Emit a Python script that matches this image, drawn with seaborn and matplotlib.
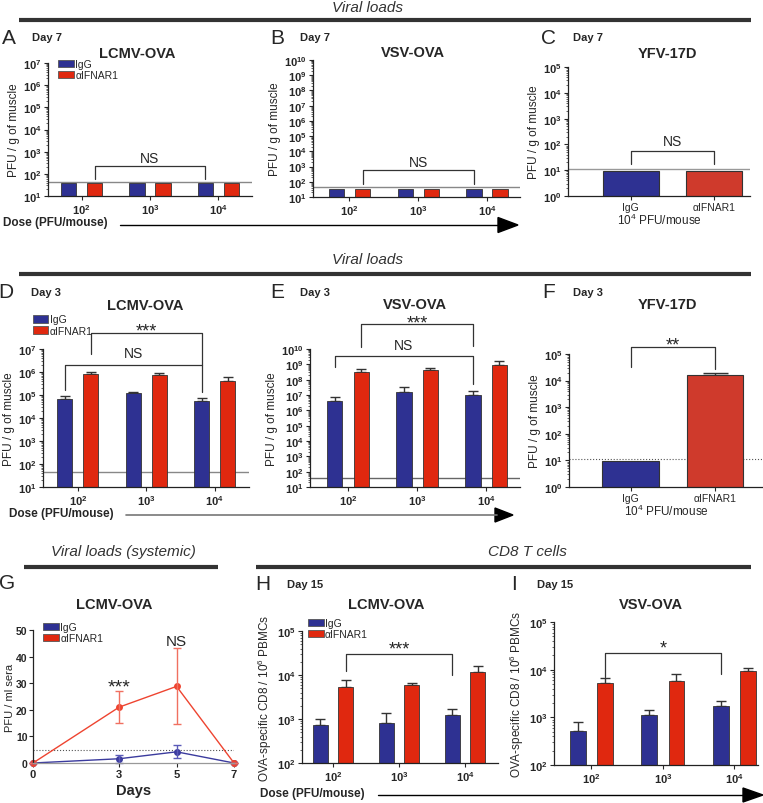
import numpy as np
import pandas as pd
import matplotlib
matplotlib.use("Agg")
import matplotlib.pyplot as plt
import seaborn as sns
from matplotlib.patches import Patch, Polygon
from matplotlib.ticker import FixedLocator, LogLocator, FuncFormatter, NullFormatter

# ---- values ----
groups = ["IgG", "αIFNAR1"]
doses = ["$\\mathbf{10}^{\\mathbf{2}}$", "$\\mathbf{10}^{\\mathbf{3}}$", "$\\mathbf{10}^{\\mathbf{4}}$"]

# A - day 7, LCMV-OVA (at detection limit)
a_igg = [38, 38, 38]
a_ifnar = [38, 38, 38]
a_lod = 42
# B - day 7, VSV-OVA
b_igg = [36, 36, 36]
b_ifnar = [36, 36, 36]
b_lod = 48
# C - day 7, YFV-17D
c_vals = [9.5, 9.5]
c_lod = 11.5
# D - day 3, LCMV-OVA
d_igg = [7.0e4, 1.2e5, 5.5e4]
d_igg_hi = [9.5e4, 1.4e5, 7.5e4]
d_ifnar = [8.0e5, 7.5e5, 4.0e5]
d_ifnar_hi = [1.0e6, 9.0e5, 6.0e5]
d_lod = 45
# E - day 3, VSV-OVA
e_igg = [4.2e6, 1.5e7, 9.4e6]
e_igg_hi = [7.0e6, 3.5e7, 1.7e7]
e_ifnar = [3.3e8, 4.3e8, 9.0e8]
e_ifnar_hi = [4.7e8, 5.4e8, 1.7e9]
e_lod = 40
# F - day 3, YFV-17D
f_vals = [9.5, 1.6e4]
f_hi = [np.nan, 2.0e4]
f_lod = 11
# G - systemic, LCMV-OVA
g_days = [0, 3, 5, 7]
g_igg = [0, 1.6, 4.2, 0]
g_igg_err = [0, 1.5, 2.4, 0]
g_ifnar = [0, 21.0, 28.8, 0]
g_ifnar_err = [0, 6.0, 14.3, 0]
g_lod = 5
# H - day 15, LCMV-OVA CD8
h_igg = [720, 830, 1230]
h_igg_hi = [1000, 1350, 1700]
h_ifnar = [5200, 6000, 11500]
h_ifnar_hi = [7700, 6700, 16000]
# I - day 15, VSV-OVA CD8
i_igg = [525, 1140, 1700]
i_igg_hi = [790, 1450, 2200]
i_ifnar = [5200, 5900, 9600]
i_ifnar_hi = [6600, 8300, 11000]

BLUE = "#2e3192"
RED = "#e0280f"
RED2 = "#cf3a2c"
EDGE = "#333333"

sns.set_style("ticks")
plt.rcParams["font.family"] = ["Liberation Sans", "DejaVu Sans"]
plt.rcParams["mathtext.fontset"] = "custom"
plt.rcParams["mathtext.rm"] = "Liberation Sans"
plt.rcParams["mathtext.bf"] = "Liberation Sans:bold"
plt.rcParams["mathtext.it"] = "Liberation Sans:italic"

W, H = 763, 804
fig = plt.figure(figsize=(W / 100, H / 100), dpi=100)
ov = fig.add_axes([0, 0, 1, 1])
ov.set_xlim(0, W)
ov.set_ylim(H, 0)
ov.axis("off")


def px_axes(l, t, r, b):
    return fig.add_axes([l / W, 1 - b / H, (r - l) / W, (b - t) / H])


def style(ax):
    sns.despine(ax=ax)
    for s in ("left", "bottom"):
        ax.spines[s].set_linewidth(0.9)
        ax.spines[s].set_color("#222222")
    ax.tick_params(axis="both", labelsize=8, length=3, width=0.8, pad=1.5)
    ax.tick_params(which="minor", length=1.5, width=0.5)
    ax.set_xlabel("")


def log_y(ax, lo, hi):
    ax.set_yscale("log")
    ax.set_ylim(10 ** lo, 10 ** hi)
    ax.yaxis.set_major_locator(FixedLocator([10.0 ** k for k in range(lo, hi + 1)]))
    ax.yaxis.set_major_formatter(
        FuncFormatter(lambda v, p: "$\\mathbf{10}^{\\mathbf{%d}}$" % round(np.log10(v))))
    ax.yaxis.set_minor_locator(LogLocator(base=10, subs=np.arange(2, 10), numticks=100))
    ax.yaxis.set_minor_formatter(NullFormatter())


def dose_panel(ax, igg, ifnar, igg_hi, ifnar_hi, lo, hi, xlim):
    df = pd.DataFrame({"dose": doses * 2,
                       "group": [groups[0]] * 3 + [groups[1]] * 3,
                       "value": list(igg) + list(ifnar)})
    sns.barplot(df, x="dose", y="value", hue="group", hue_order=groups,
                palette=[BLUE, RED], saturation=1, width=0.76, gap=0.42,
                errorbar=None, edgecolor=EDGE, linewidth=0.6, legend=False, ax=ax)
    log_y(ax, lo, hi)
    ax.set_xlim(*xlim)
    style(ax)
    centers = [[p.get_x() + p.get_width() / 2 for p in c] for c in ax.containers]
    if igg_hi is not None:
        for xs, vals, his in zip(centers, (igg, ifnar), (igg_hi, ifnar_hi)):
            vals = np.array(vals)
            ax.errorbar(xs, vals, yerr=[np.zeros(len(vals)), np.array(his) - vals],
                        fmt="none", ecolor=EDGE, elinewidth=1, capsize=3.5,
                        capthick=1, zorder=0.9)
    return centers


def single_panel(ax, vals, his, lo, hi, xlim):
    df = pd.DataFrame({"group": groups, "value": vals})
    sns.barplot(df, x="group", y="value", hue="group", hue_order=groups,
                palette=[BLUE, RED2], saturation=1, width=0.67, errorbar=None,
                edgecolor=EDGE, linewidth=0.8, legend=False, ax=ax)
    log_y(ax, lo, hi)
    ax.set_xlim(*xlim)
    style(ax)
    ax.tick_params(axis="x", labelsize=7.5)
    centers = [c[0].get_x() + c[0].get_width() / 2 for c in ax.containers]
    for x, v, h in zip(centers, vals, his):
        if not np.isnan(h):
            ax.errorbar([x], [v], yerr=[[0], [h - v]], fmt="none", ecolor=EDGE,
                        elinewidth=1, capsize=9, capthick=1, zorder=0.9)
    ax.set_xlabel("10$^4$ PFU/mouse", fontsize=8.5, labelpad=0)
    return centers


def bracket(ax, x1, x2, y, y1, y2, label, ty, size=10):
    ax.plot([x1, x1, x2, x2], [y1, y, y, y2], color=EDGE, lw=0.9, clip_on=False)
    ax.text((x1 + x2) / 2, ty, label, ha="center", va="center", fontsize=size,
            clip_on=False)


def legend(ax, x, y):
    handles = [Patch(facecolor=BLUE, edgecolor="#555555", linewidth=0.6, label=groups[0]),
               Patch(facecolor=RED, edgecolor="#555555", linewidth=0.6, label=groups[1])]
    ax.legend(handles=handles, loc="upper left", bbox_to_anchor=(x, y),
              frameon=False, fontsize=7.5, handlelength=1.5, handleheight=0.7,
              handletextpad=0.15, labelspacing=0.1, borderaxespad=0, borderpad=0)


MUSCLE = "PFU / g of muscle"
STAR = 13

# ---- A ----
ax = px_axes(48, 64, 252, 197)
cA = dose_panel(ax, a_igg, a_ifnar, None, None, 1, 7, (-0.49, 2.49))
ax.axhline(a_lod, color="#888888", lw=1, zorder=0.5)
ax.set_ylabel(MUSCLE, fontsize=8.5, labelpad=2)
bracket(ax, cA[1][0], cA[0][2], 10 ** 2.35, 58, 58, "NS", 10 ** 2.72)
legend(ax, 0.05, 1.03)

# ---- B ----
ax = px_axes(313, 61, 520, 198)
cB = dose_panel(ax, b_igg, b_ifnar, None, None, 1, 10, (-0.53, 2.48))
ax.axhline(b_lod, color="#888888", lw=1, zorder=0.5)
ax.set_ylabel(MUSCLE, fontsize=8.5, labelpad=2)
bracket(ax, cB[1][0], cB[0][2], 10 ** 2.75, 67, 67, "NS", 10 ** 3.32)

# ---- C ----
ax = px_axes(568, 68, 750, 197)
cC = single_panel(ax, c_vals, [np.nan, np.nan], 0, 5, (-0.75, 1.43))
ax.axhline(c_lod, color="#999999", lw=1, zorder=0.5)
ax.set_ylabel(MUSCLE, fontsize=8.5, labelpad=2)
bracket(ax, cC[0], cC[1], 57, 17, 17, "NS", 10 ** 2.13)

# ---- D ----
ax = px_axes(43, 350, 249, 488)
cD = dose_panel(ax, d_igg, d_ifnar, d_igg_hi, d_ifnar_hi, 1, 7, (-0.51, 2.5))
ax.axhline(d_lod, color="#888888", lw=1, zorder=0.5)
ax.set_ylabel(MUSCLE, fontsize=8.5, labelpad=2)
bracket(ax, cD[0][0], cD[0][2], 10 ** 6.3, 10 ** 5.2, 10 ** 5.15, "NS", 10 ** 6.84)
bracket(ax, cD[1][0], cD[0][2], 10 ** 7.69, 10 ** 6.8, 10 ** 6.3, "***", 10 ** 7.8,
        size=STAR)
legend(ax, -0.05, 1.25)

# ---- E ----
ax = px_axes(310, 350, 520, 488)
cE = dose_panel(ax, e_igg, e_ifnar, e_igg_hi, e_ifnar_hi, 1, 10, (-0.55, 2.49))
ax.axhline(e_lod, color="#666666", lw=1, zorder=0.5)
ax.set_ylabel(MUSCLE, fontsize=8.5, labelpad=2)
bracket(ax, cE[0][0], cE[0][2], 10 ** 9.56, 10 ** 8.8, 10 ** 7.7, "NS", 10 ** 10.26)
bracket(ax, cE[1][0], cE[0][2], 10 ** 11.6, 10 ** 10.1, 10 ** 10.2, "***", 10 ** 11.7,
        size=STAR)

# ---- F ----
ax = px_axes(569, 355, 763, 488)
cF = single_panel(ax, f_vals, f_hi, 0, 5, (-0.73, 1.57))
ax.axhline(f_lod, color="#555555", lw=0.8, ls=":", zorder=0.5)
ax.set_ylabel(MUSCLE, fontsize=8.5, labelpad=2)
bracket(ax, cF[0], cF[1], 10 ** 5.25, 10 ** 4.5, 10 ** 4.44, "**", 10 ** 5.35, size=STAR)

# ---- G ----
ax = px_axes(33, 631, 234, 764)
gdf = pd.DataFrame({"day": g_days * 2,
                    "group": [groups[0]] * 4 + [groups[1]] * 4,
                    "pfu": g_igg + g_ifnar})
sns.lineplot(gdf, x="day", y="pfu", hue="group", hue_order=groups,
             palette=["#3b3b9e", "#ee4430"], marker="o", markersize=5,
             markeredgewidth=0, lw=1, errorbar=None, legend=False, ax=ax)
for ln in ax.lines:
    ln.set_clip_on(False)
ax.errorbar(g_days, g_igg, yerr=g_igg_err, fmt="none", ecolor="#5a5ab8",
            elinewidth=1, capsize=3, capthick=1, clip_on=False)
ax.errorbar(g_days, g_ifnar, yerr=g_ifnar_err, fmt="none", ecolor="#f07060",
            elinewidth=1, capsize=3, capthick=1, clip_on=False)
ax.axhline(g_lod, color="#555555", lw=0.8, ls=":", zorder=0.5)
ax.set_xlim(0, 7)
ax.set_ylim(0, 50)
ax.set_xticks(g_days)
ax.set_yticks([0, 10, 20, 30, 40, 50])
style(ax)
ax.tick_params(axis="y", labelsize=7.5, pad=1)
ax.spines["bottom"].set_color("#999999")
for t in ax.get_xticklabels() + ax.get_yticklabels():
    t.set_fontweight("bold")
ax.set_xlabel("Days", fontsize=10.5, fontweight="bold", labelpad=3)
ax.set_ylabel("PFU / ml sera", fontsize=8, labelpad=1)
ax.text(3, 28.5, "***", ha="center", va="center", fontsize=14)
ax.text(5, 46, "NS", ha="center", va="center", fontsize=11)
legend(ax, 0.05, 1.06)

# ---- H ----
CD8 = "OVA-specific CD8 / 10$^6$ PBMCs"
ax = px_axes(302, 632, 498, 764)
cH = dose_panel(ax, h_igg, h_ifnar, h_igg_hi, h_ifnar_hi, 2, 5, (-0.47, 2.5))
ax.set_ylabel(CD8, fontsize=8.5, labelpad=2)
bracket(ax, cH[1][0], cH[0][2], 10 ** 4.48, 10 ** 4.08, 10 ** 4.0, "***", 10 ** 4.58,
        size=STAR)
legend(ax, 0.03, 1.1)

# ---- I ----
ax = px_axes(554, 623, 758, 766)
cI = dose_panel(ax, i_igg, i_ifnar, i_igg_hi, i_ifnar_hi, 2, 5, (-0.52, 2.33))
ax.set_ylabel(CD8, fontsize=8.5, labelpad=2)
bracket(ax, cI[1][0], cI[0][2], 10 ** 4.35, 10 ** 3.84, 10 ** 3.91, "*", 10 ** 4.45,
        size=STAR)

# ---- headers, labels, arrows ----
hdr = dict(ha="center", va="center", fontsize=11, style="italic", color="#333333")
ov.text(368, 8, "Viral loads", **hdr)
ov.plot([19, 751], [21, 21], lw=3, color="#333333", solid_capstyle="butt")
ov.text(368, 260, "Viral loads", **hdr)
ov.plot([19, 751], [275, 275], lw=3, color="#333333", solid_capstyle="butt")
ov.text(123, 552, "Viral loads (systemic)", **hdr)
ov.plot([24, 218], [568, 568], lw=3, color="#333333", solid_capstyle="butt")
ov.text(527, 552, "CD8 T cells", **hdr)
ov.plot([256, 751], [568, 568], lw=3, color="#333333", solid_capstyle="butt")

for letter, x, y in [("A", 9, 38), ("B", 277, 38), ("C", 548, 38),
                     ("D", 6, 293), ("E", 277, 293), ("F", 549, 293),
                     ("G", 7, 584), ("H", 263, 585), ("I", 514, 585)]:
    ov.text(x, y, letter, ha="center", va="center", fontsize=15)

for day, x, y in [("Day 7", 32, 38), ("Day 7", 300, 38), ("Day 7", 573, 38),
                  ("Day 3", 31, 293), ("Day 3", 300, 293), ("Day 3", 573, 293),
                  ("Day 15", 287, 585), ("Day 15", 537, 585)]:
    ov.text(x, y, day, ha="left", va="center", fontsize=8, fontweight="bold")

for title, x, y in [("LCMV-OVA", 137, 54), ("VSV-OVA", 413, 53), ("YFV-17D", 667, 54),
                    ("LCMV-OVA", 145, 306), ("VSV-OVA", 415, 305), ("YFV-17D", 667, 305),
                    ("LCMV-OVA", 114, 605), ("LCMV-OVA", 386, 605), ("VSV-OVA", 651, 605)]:
    ov.text(x, y, title, ha="center", va="center", fontsize=10.5, fontweight="bold")

for x, y in [(3, 223), (9, 514), (260, 794)]:
    ov.text(x, y, "Dose (PFU/mouse)", ha="left", va="center", fontsize=8.5,
            fontweight="bold")

ov.plot([120, 500], [226, 226], color="black", lw=1)
ov.add_patch(Polygon([(498, 218.5), (518, 226), (498, 233.5)], color="black"))
ov.plot([126, 497], [516, 516], color="#777777", lw=1.2)
ov.add_patch(Polygon([(495, 509), (513, 516), (495, 523)], color="black"))
ov.plot([378, 745], [796, 796], color="black", lw=1)
ov.add_patch(Polygon([(743, 789), (763, 796), (743, 803)], color="black"))

fig.savefig("out.png", dpi=100)
